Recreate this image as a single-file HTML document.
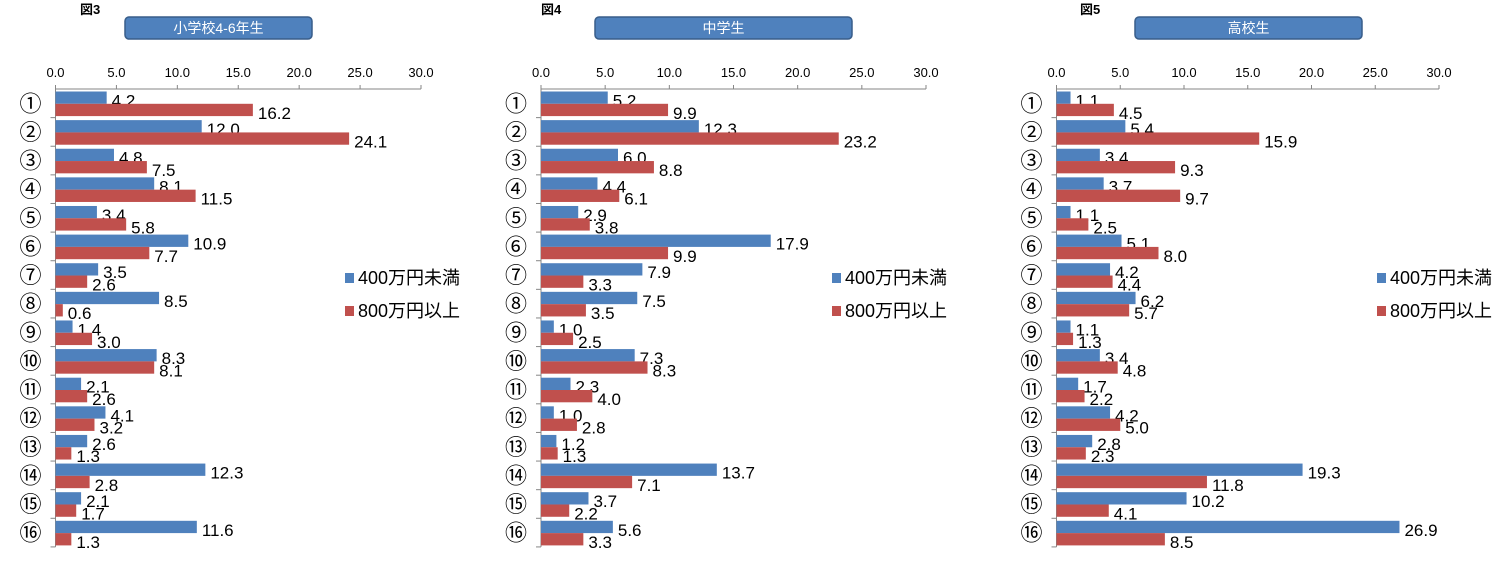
<!DOCTYPE html>
<html><head><meta charset="utf-8"><style>
body{margin:0;background:#fff;}
svg text{font-family:"Liberation Sans","Noto Sans CJK JP",sans-serif;}
</style></head><body>
<svg id="c" width="1500" height="558" xmlns="http://www.w3.org/2000/svg"></svg>
<script>
const categories=["①","②","③","④","⑤","⑥","⑦","⑧","⑨","⑩","⑪","⑫","⑬","⑭","⑮","⑯"];
const ticks=[0,5,10,15,20,25,30];
const seriesNames=["400万円未満","800万円以上"];
const p1Low=[4.2,12.0,4.8,8.1,3.4,10.9,3.5,8.5,1.4,8.3,2.1,4.1,2.6,12.3,2.1,11.6];
const p1High=[16.2,24.1,7.5,11.5,5.8,7.7,2.6,0.6,3.0,8.1,2.6,3.2,1.3,2.8,1.7,1.3];
const p2Low=[5.2,12.3,6.0,4.4,2.9,17.9,7.9,7.5,1.0,7.3,2.3,1.0,1.2,13.7,3.7,5.6];
const p2High=[9.9,23.2,8.8,6.1,3.8,9.9,3.3,3.5,2.5,8.3,4.0,2.8,1.3,7.1,2.2,3.3];
const p3Low=[1.1,5.4,3.4,3.7,1.1,5.1,4.2,6.2,1.1,3.4,1.7,4.2,2.8,19.3,10.2,26.9];
const p3High=[4.5,15.9,9.3,9.7,2.5,8.0,4.4,5.7,1.3,4.8,2.2,5.0,2.3,11.8,4.1,8.5];
const panelTitles=["小学校4-6年生","中学生","高校生"];
const figLabels=["図3","図4","図5"];

const NS="http://www.w3.org/2000/svg";
const svg=document.getElementById('c');
function mk(tag,attrs,parent){const e=document.createElementNS(NS,tag);for(const k in attrs)e.setAttribute(k,attrs[k]);(parent||svg).appendChild(e);return e;}
const panels=[
 {x0:55.5,x1:421,low:p1Low,high:p1High,fig:80,box:[125,312],leg:345},
 {x0:541,x1:926,low:p2Low,high:p2High,fig:541,box:[595,852],leg:832},
 {x0:1056.5,x1:1439,low:p3Low,high:p3High,fig:1080,box:[1135,1362],leg:1377}
];
const yTop=89,rowH=28.62,BLUE="#4f81bd",RED="#c0504d";
panels.forEach((p,pi)=>{
 const g=mk('g',{});
 
 
 const sx=v=>p.x0+(p.x1-p.x0)*v/30;
 const yr=i=>yTop+i*rowH;
 let t=mk('text',{x:p.fig,y:14,'font-size':13,'font-weight':'bold',fill:'#000'},g);t.textContent=figLabels[pi];
 
 let b=mk('rect',{x:p.box[0],y:17,width:p.box[1]-p.box[0],height:22,rx:4,fill:'#4f81bd',stroke:'#385d8a','stroke-width':1.5},g);
 
 t=mk('text',{x:(p.box[0]+p.box[1])/2,y:33,'font-size':14,fill:'#fff','text-anchor':'middle'},g);t.textContent=panelTitles[pi];
 
 let ax=mk('line',{x1:p.x0,y1:yTop,x2:p.x1,y2:yTop,stroke:'#868686'},g);
 
 ticks.forEach(v=>{
  mk('line',{x1:sx(v),y1:yTop-4,x2:sx(v),y2:yTop,stroke:'#868686'},g);
  const tt=mk('text',{x:sx(v),y:77,'font-size':13,'text-anchor':'middle',fill:'#000'},g);tt.textContent=v.toFixed(1);
  
 });
 let ay=mk('line',{x1:p.x0,y1:yTop,x2:p.x0,y2:yr(16),stroke:'#868686'},g);
 
 categories.forEach((c,i)=>{
  mk('line',{x1:p.x0-5,y1:yr(i+1),x2:p.x0,y2:yr(i+1),stroke:'#868686'},g);
  const ct=mk('text',{x:p.x0-25,y:yr(i)+rowH/2+8,'font-size':22,'text-anchor':'middle',fill:'#000'},g);ct.textContent=c;
  
  [[p.low[i],BLUE,2.5,'bar-under-400'],[p.high[i],RED,14.8,'bar-over-800']].forEach(([v,col,off,nm])=>{
   const r=mk('rect',{x:p.x0,y:yr(i)+off,width:sx(v)-p.x0,height:12.3,fill:col},g);
   
   const vt=mk('text',{x:sx(v)+5,y:yr(i)+off+15,'font-size':17,fill:'#000'},g);vt.textContent=v.toFixed(1);
   
  });
 });
 seriesNames.forEach((n,k)=>{
  const ly=273+k*33;
  const s=mk('rect',{x:p.leg,y:ly,width:9,height:10,fill:k?RED:BLUE},g);
  
  const lt=mk('text',{x:p.leg+13,y:ly+11,'font-size':18,fill:'#000'},g);lt.textContent=n;
  
 });
});
</script>
</body></html>
